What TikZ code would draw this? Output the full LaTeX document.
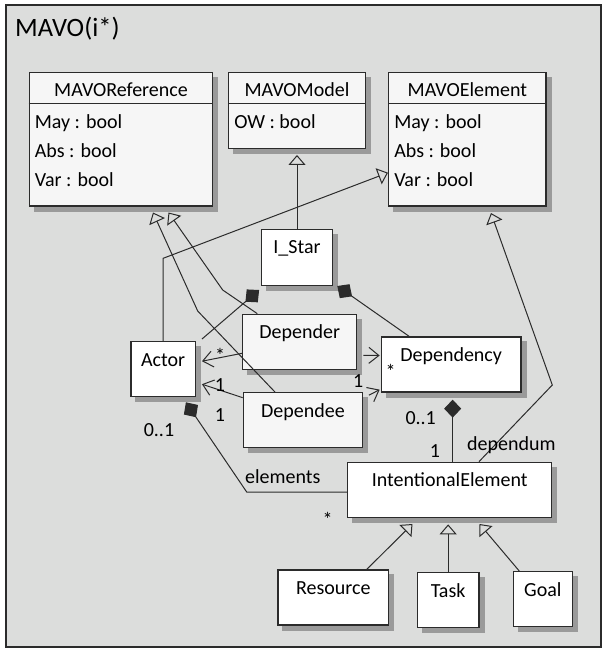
\documentclass[tikz,border=0pt]{standalone}
\usepackage{fontspec}
\setmainfont{Carlito}
\usetikzlibrary{arrows.meta}
\pgfdeclarelayer{frame}
\pgfdeclarelayer{shade}
\pgfsetlayers{frame,shade,main}
\definecolor{bggray}{HTML}{DCDDDC}
\definecolor{framegray}{HTML}{2B2B2B}
\definecolor{shadowgray}{HTML}{9A9A9A}
\definecolor{paper}{HTML}{F6F6F6}

\begin{document}
\begin{tikzpicture}[
    x=1pt, y=-1pt,
    cls/.style={rectangle, draw=framegray, line width=1.3pt, fill=white, inner sep=0pt},
    shade/.style={fill=shadowgray, draw=none},
    cname/.style={anchor=base, inner sep=0pt, font=\fontsize{20}{24}\selectfont},
    attr/.style={anchor=base west, inner sep=0pt, font=\fontsize{20}{24}\selectfont},
    lbl/.style={anchor=base, inner sep=0pt, font=\fontsize{20}{24}\selectfont},
    gen/.style={-{Triangle[open, length=10pt, width=17pt]}, line width=1pt, draw=framegray},
    nav/.style={-{Straight Barb[length=10pt, width=16pt]}, line width=1pt, draw=framegray},
    comp/.style={{Diamond[length=18pt, width=17pt]}-, line width=1pt, draw=framegray}
  ]
    \useasboundingbox (0,0) rectangle (606,649);

    % Package frame
    \begin{pgfonlayer}{frame}
      \draw[draw=framegray, line width=1.8pt, fill=bggray] (6,5) rectangle (601,647);
    \end{pgfonlayer}
    \node[anchor=base west, inner sep=0pt, font=\fontsize{26.5}{30}\selectfont] (title) at (15,36.7) {MAVO(i*)};

    % MAVO classes
    \node[cls, fill=paper, minimum width=183.4pt, minimum height=133.3pt] (mavoref) at (121,139.35) {};
    \node[cname] at ([yshift=-24.5pt]mavoref.north) {MAVOReference};
    \draw[framegray, line width=1.3pt] ([yshift=-31.6pt]mavoref.north west) -- ([yshift=-31.6pt]mavoref.north east);
    \node[attr] at ([xshift=6pt, yshift=-56.5pt]mavoref.north west) {May : bool};
    \node[attr] at ([xshift=6pt, yshift=-85.5pt]mavoref.north west) {Abs : bool};
    \node[attr] at ([xshift=6pt, yshift=-114.5pt]mavoref.north west) {Var : bool};

    \node[cls, fill=paper, minimum width=136.6pt, minimum height=75.6pt] (mavomodel) at (297,110.5) {};
    \node[cname] at ([yshift=-24.5pt]mavomodel.north) {MAVOModel};
    \draw[framegray, line width=1.3pt] ([yshift=-31.6pt]mavomodel.north west) -- ([yshift=-31.6pt]mavomodel.north east);
    \node[attr] at ([xshift=6pt, yshift=-56.5pt]mavomodel.north west) {OW : bool};

    \node[cls, fill=paper, minimum width=157.3pt, minimum height=133.3pt] (mavoelem) at (467.35,139.35) {};
    \node[cname] at ([yshift=-24.5pt]mavoelem.north) {MAVOElement};
    \draw[framegray, line width=1.3pt] ([yshift=-31.6pt]mavoelem.north west) -- ([yshift=-31.6pt]mavoelem.north east);
    \node[attr] at ([xshift=6pt, yshift=-56.5pt]mavoelem.north west) {May : bool};
    \node[attr] at ([xshift=6pt, yshift=-85.5pt]mavoelem.north west) {Abs : bool};
    \node[attr] at ([xshift=6pt, yshift=-114.5pt]mavoelem.north west) {Var : bool};

    % i* classes
    \node[cls, minimum width=70.6pt, minimum height=56pt] (istar) at (297,257.3) {};
    \node[cname] at ([yshift=-25pt]istar.north) {I\_Star};
    \node[cls, minimum width=64.3pt, minimum height=55pt] (actor) at (163.15,369.2) {};
    \node[cname] at ([yshift=-25pt]actor.north) {Actor};
    \node[cls, fill=paper, minimum width=114pt, minimum height=55pt] (depender) at (299.7,341.8) {};
    \node[cname] at ([yshift=-25pt]depender.north) {Depender};
    \node[cls, fill=paper, minimum width=119.4pt, minimum height=55pt] (dependee) at (303,420.2) {};
    \node[cname] at ([yshift=-25pt]dependee.north) {Dependee};
    \node[cls, minimum width=139.7pt, minimum height=55pt] (dependency) at (451.15,364.5) {};
    \node[cname] at ([yshift=-25pt]dependency.north) {Dependency};
    \node[cls, minimum width=204pt, minimum height=55.4pt] (intelem) at (449.7,490) {};
    \node[cname] at ([yshift=-25pt]intelem.north) {IntentionalElement};

    % Element kinds
    \node[cls, minimum width=110.7pt, minimum height=55pt] (resource) at (333.35,597.5) {};
    \node[cname] at ([yshift=-25pt]resource.north) {Resource};
    \node[cls, minimum width=61.7pt, minimum height=55pt] (task) at (448.15,600.2) {};
    \node[cname] at ([yshift=-25pt]task.north) {Task};
    \node[cls, minimum width=59pt, minimum height=55pt] (goal) at (542.8,599.2) {};
    \node[cname] at ([yshift=-25pt]goal.north) {Goal};

    % Shadows behind the classes
    \begin{pgfonlayer}{shade}
      \fill[shade] ([shift={(5pt,-5pt)}]mavoref.south west) rectangle ([shift={(5pt,-5pt)}]mavoref.north east);
      \fill[shade] ([shift={(5pt,-5pt)}]mavomodel.south west) rectangle ([shift={(5pt,-5pt)}]mavomodel.north east);
      \fill[shade] ([shift={(5pt,-5pt)}]mavoelem.south west) rectangle ([shift={(5pt,-5pt)}]mavoelem.north east);
      \fill[shade] ([shift={(5pt,-5pt)}]istar.south west) rectangle ([shift={(5pt,-5pt)}]istar.north east);
      \fill[shade] ([shift={(5pt,-5pt)}]actor.south west) rectangle ([shift={(5pt,-5pt)}]actor.north east);
      \fill[shade] ([shift={(5pt,-5pt)}]depender.south west) rectangle ([shift={(5pt,-5pt)}]depender.north east);
      \fill[shade] ([shift={(5pt,-5pt)}]dependee.south west) rectangle ([shift={(5pt,-5pt)}]dependee.north east);
      \fill[shade] ([shift={(5pt,-5pt)}]dependency.south west) rectangle ([shift={(5pt,-5pt)}]dependency.north east);
      \fill[shade] ([shift={(5pt,-5pt)}]intelem.south west) rectangle ([shift={(5pt,-5pt)}]intelem.north east);
      \fill[shade] ([shift={(5pt,-5pt)}]resource.south west) rectangle ([shift={(5pt,-5pt)}]resource.north east);
      \fill[shade] ([shift={(5pt,-5pt)}]task.south west) rectangle ([shift={(5pt,-5pt)}]task.north east);
      \fill[shade] ([shift={(5pt,-5pt)}]goal.south west) rectangle ([shift={(5pt,-5pt)}]goal.north east);
    \end{pgfonlayer}

    % Bends and arrow ends
    \coordinate (actbend) at (163.15,258.3);
    \coordinate (elemtipA) at (388,172.7);
    \coordinate (deebend) at (197.7,311);
    \coordinate (reftipA) at (153,212.5);
    \coordinate (derbend) at (222.7,290);
    \coordinate (reftipB) at (168.5,212.5);
    \coordinate (iebend) at (552.3,385);
    \coordinate (elemtipB) at (491,213);
    \coordinate (restip) at (412.5,524);
    \coordinate (goaltip) at (479.5,524);
    \coordinate (compA) at (259.1,290);
    \coordinate (compB) at (337.3,286);
    \coordinate (compC) at (185.9,402.3);
    \coordinate (elembend) at (246.7,492);

    % Generalizations
    \draw[gen, shorten >=6pt] (istar) -- (mavomodel);
    \draw[gen] (actor.north) -- (actbend) -- (elemtipA);
    \draw[gen] ([xshift=-28pt]dependee.north) -- (deebend) -- (reftipA);
    \draw[gen] ([xshift=-42.4pt]depender.north) -- (derbend) -- (reftipB);
    \draw[gen] ([xshift=29.3pt]intelem.north) -- (iebend) -- (elemtipB);
    \draw[gen] ([xshift=33.4pt]resource.north) -- (restip);
    \draw[gen, shorten >=6pt] (task.north) -- (task.north |- intelem.south);
    \draw[gen] ([xshift=-23.5pt]goal.north) -- (goaltip);

    % Compositions
    \draw[comp] (compA) -- ([xshift=6pt, yshift=2pt]actor.north east);
    \draw[comp] (compB) -- ([xshift=-42pt]dependency.north);
    \draw[comp, shorten <=7pt] ([xshift=1.5pt]dependency.south) -- ([xshift=1.5pt]dependency.south |- intelem.north);
    \draw[comp] (compC) -- (elembend) -- (intelem.west |- elembend);

    % Navigable associations
    \draw[nav] ([yshift=-11.5pt]depender.west) -- ([xshift=6pt, yshift=8pt]actor.east);
    \draw[nav] ([yshift=-5.6pt]dependee.north west) -- ([xshift=6pt, yshift=-15pt]actor.east);
    \draw[nav] ([xshift=6pt, yshift=-13.5pt]depender.east) -- ([xshift=-1pt, yshift=9pt]dependency.west);
    \draw[nav] ([xshift=5.6pt, yshift=25pt]dependee.east) -- ([xshift=-1pt, yshift=3pt]dependency.south west);

    % Multiplicities and role names
    \node[lbl] (mulA) at (220,362) {*};
    \node[lbl] (mulB) at (220,391) {1};
    \node[lbl] (mulC) at (220,421) {1};
    \node[lbl] (mulD) at (159,436.7) {0..1};
    \node[lbl] (mulE) at (390.7,378.7) {*};
    \node[lbl] (mulF) at (358.3,387.3) {1};
    \node[lbl] (mulG) at (420.7,424.3) {0..1};
    \node[lbl] (mulH) at (435,457.7) {1};
    \node[lbl] (mulI) at (327.7,526) {*};
    \node[lbl] (roleA) at (511.3,450.5) {dependum};
    \node[lbl] (roleB) at (282.7,483.3) {elements};

  \end{tikzpicture}
\end{document}
